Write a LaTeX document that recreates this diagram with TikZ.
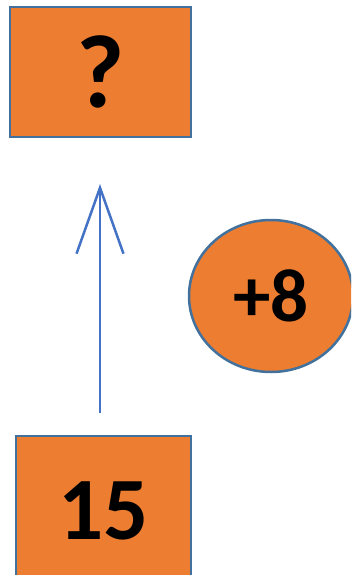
\documentclass[tikz,border=0pt]{standalone}
\usepackage{fontspec}
\setmainfont{Carlito}
\usetikzlibrary{positioning,arrows.meta,shapes.geometric}

\definecolor{boxfill}{HTML}{ED7D31}
\definecolor{boxline}{HTML}{41719C}
\definecolor{arrowline}{HTML}{4472C4}

\tikzset{
    numbox/.style={draw=boxline, fill=boxfill, line width=2.5pt, inner sep=0pt, font=\bfseries},
    opbubble/.style={ellipse, draw=boxline, fill=boxfill, line width=2.5pt, inner sep=0pt, font=\bfseries},
    link/.style={arrowline, line width=2.5pt, -{Straight Barb[length=66pt, width=47pt, line width=2.5pt]}}
}

\begin{document}
\begin{tikzpicture}[x=1pt, y=-1pt]

    \useasboundingbox (0,0) rectangle (351,575);
    \clip (0,0) rectangle (351,575);

    \node[numbox, minimum width=181pt, minimum height=130pt] (result) at (100.5, 72)
        {\fontsize{104}{104}\selectfont ?};

    \node[numbox, minimum width=175pt, minimum height=150pt] (start) at (103.5, 511)
        {\fontsize{89}{89}\selectfont 15};

    \node[opbubble, minimum width=164pt, minimum height=152pt] (plus) at (271, 296)
        {\fontsize{75}{75}\selectfont +8};

    \coordinate (from) at (100, 413);
    \coordinate (to) at (100, 184);

    \draw[link] (from) -- (to);

\end{tikzpicture}
\end{document}
